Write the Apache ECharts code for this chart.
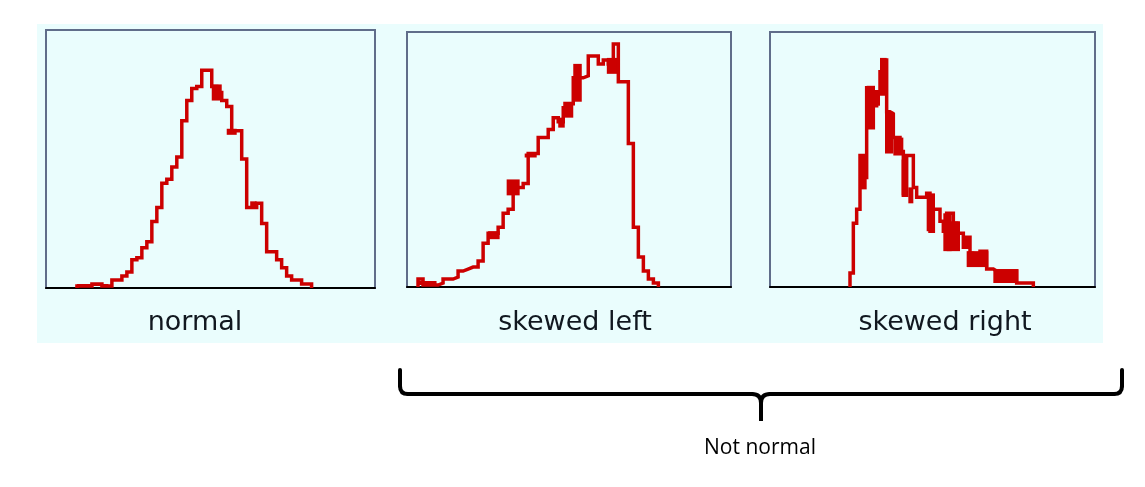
<!DOCTYPE html>
<html>
<head>
<meta charset="utf-8">
<script src="https://cdn.jsdelivr.net/npm/echarts@6/dist/echarts.min.js"></script>
<style>
  html, body { margin: 0; padding: 0; background: #ffffff; }
  #chart { width: 1145px; height: 487px; }
</style>
</head>
<body>
<div id="chart"></div>
<script>
// ---- Data (bin counts of each histogram, unit-width bins) ----
const panelTitles = ['normal', 'skewed left', 'skewed right'];
const groupLabel = 'Not normal';

// normal: first bin starts at 6.2
const normalStart = 6.2;
const normalCounts = [1,1,1,2,2,1,1,4,4,6,8,14,15,20,23,33,40,52,54,60,65,83,93,99,100,108,108,100,97,93,90,78,78,64,40,40,42,32,18,18,14,10,6,4,4,2,2];
// overlapping-run spread: [binFrom, binTo, countLow, countHigh]
const normalSpread = [[33.2,35.2,93,101],[6.2,12.5,1,2],[36.2,38.2,76,79],[40.9,42.2,40,43]];

// skewed left: first bin starts at 2.2
const leftStart = 2.2;
const leftCounts = [4,1,1,1,2,4,4,5,8,9,10,10,13,22,27,27,30,37,39,50,50,52,67,67,75,75,79,85,83,90,92,105,105,106,116,116,112,114,112,122,103,103,72,30,15,8,4,2];
const leftSpread = [[19.9,22.5,46,54],[16.2,18.5,24,28],[23.5,25.9,65,67],[30.2,31.5,80,85],[31.2,33.2,85,93],[33.2,34.9,93,112],[39.9,42.2,107,115],[2.2,5.9,1,3]];

// skewed right: first bin starts at 24
const rightStart = 24;
const rightCounts = [7,32,39,66,55,100,80,91,98,108,114,88,87,75,75,68,46,66,66,50,45,45,45,47,28,39,39,33,28,37,37,32,27,27,20,25,17,16,16,18,18,9,9,8,8,8,8,3,8,8,2,2,2,2,2];
const rightSpread = [[27,29,49,66],[29,31.5,80,101],[31.5,33,91,98],[33,35,96,115],[34.5,37,67,88],[37,40,66,75],[39.5,40.5,46,64],[41.5,43,42,50],[47,49.5,28,47],[52,54.5,18,37],[53,57,18,33],[59,65.5,10,18],[67,74.5,2,9]];

// axis extents (in bin units / count units)
const xMax = [65.9, 64.7, 97.5];
const yMax = 128;

// ---- Helpers ----
function stepData(start, counts) {
  const pts = [[start, 0]];
  counts.forEach((c, i) => pts.push([start + i, c]));
  pts.push([start + counts.length, 0]);
  return pts;
}

const lines = [
  stepData(normalStart, normalCounts),
  stepData(leftStart, leftCounts),
  stepData(rightStart, rightCounts)
];
const spreads = [normalSpread, leftSpread, rightSpread];

const grids = [
  { left: 46, top: 30, width: 329, height: 258 },
  { left: 407, top: 32, width: 324, height: 255 },
  { left: 770, top: 32, width: 325, height: 255 }
];

const bg = '#eafdfd';
const red = '#cc0000';
const chart = echarts.init(document.getElementById('chart'), null, { renderer: 'canvas' });

const braceStyle = { stroke: '#000000', lineWidth: 4, fill: null, lineCap: 'round' };

function renderSpread(params, api) {
  const p0 = api.coord([api.value(0), api.value(3)]);
  const p1 = api.coord([api.value(1), api.value(2)]);
  return {
    type: 'rect',
    shape: { x: p0[0], y: p0[1], width: p1[0] - p0[0], height: p1[1] - p0[1] },
    style: { fill: red }
  };
}

const series = [];
lines.forEach((d, i) => {
  series.push({
    type: 'line', xAxisIndex: i, yAxisIndex: i,
    data: d, step: 'end', showSymbol: false, symbol: 'none',
    lineStyle: { color: red, width: 3.5, join: 'miter', cap: 'butt' },
    z: 3
  });
  series.push({
    type: 'custom', xAxisIndex: i, yAxisIndex: i,
    data: spreads[i], renderItem: renderSpread,
    encode: { x: [0, 1], y: [2, 3] }, z: 3, silent: true
  });
});

const option = {
  animation: false,
  backgroundColor: '#ffffff',
  grid: grids.map(g => Object.assign({
    show: true,
    backgroundColor: bg,
    borderColor: '#606d8a',
    borderWidth: 2,
    containLabel: false
  }, g)),
  xAxis: grids.map((g, i) => ({
    type: 'value', gridIndex: i, min: 0, max: xMax[i],
    axisLine: { show: true, onZero: false, lineStyle: { color: '#000000', width: 2 } },
    axisTick: { show: false }, axisLabel: { show: false }, splitLine: { show: false }
  })),
  yAxis: grids.map((g, i) => ({
    type: 'value', gridIndex: i, min: 0, max: yMax,
    axisLine: { show: false }, axisTick: { show: false },
    axisLabel: { show: false }, splitLine: { show: false }
  })),
  series: series,
  graphic: [
    { type: 'rect', z: -10, silent: true,
      shape: { x: 37, y: 24, width: 1066, height: 319 },
      style: { fill: bg } },
    { type: 'text', x: 195, y: 323, silent: true,
      style: { text: panelTitles[0], fill: '#111820', font: '27px "DejaVu Sans"', textAlign: 'center', textVerticalAlign: 'middle' } },
    { type: 'text', x: 575, y: 323, silent: true,
      style: { text: panelTitles[1], fill: '#111820', font: '27px "DejaVu Sans"', textAlign: 'center', textVerticalAlign: 'middle' } },
    { type: 'text', x: 945, y: 323, silent: true,
      style: { text: panelTitles[2], fill: '#111820', font: '27px "DejaVu Sans"', textAlign: 'center', textVerticalAlign: 'middle' } },
    // curly brace
    { type: 'polyline', silent: true, shape: { points: [[400, 370], [400, 386]] }, style: braceStyle },
    { type: 'bezierCurve', silent: true, shape: { x1: 400, y1: 386, cpx1: 400, cpy1: 394, x2: 408, y2: 394 }, style: braceStyle },
    { type: 'polyline', silent: true, shape: { points: [[408, 394], [752, 394]] }, style: braceStyle },
    { type: 'bezierCurve', silent: true, shape: { x1: 752, y1: 394, cpx1: 761, cpy1: 394, x2: 761, y2: 403 }, style: braceStyle },
    { type: 'polyline', silent: true, shape: { points: [[761, 403], [761, 421]] }, style: { stroke: '#000000', lineWidth: 4, fill: null } },
    { type: 'bezierCurve', silent: true, shape: { x1: 761, y1: 403, cpx1: 761, cpy1: 394, x2: 770, y2: 394 }, style: braceStyle },
    { type: 'polyline', silent: true, shape: { points: [[770, 394], [1114, 394]] }, style: braceStyle },
    { type: 'bezierCurve', silent: true, shape: { x1: 1114, y1: 394, cpx1: 1122, cpy1: 394, x2: 1122, y2: 386 }, style: braceStyle },
    { type: 'polyline', silent: true, shape: { points: [[1122, 386], [1122, 370]] }, style: braceStyle },
    { type: 'text', x: 760, y: 448, silent: true,
      style: { text: groupLabel, fill: '#000000', font: '21px "Open Sans"', textAlign: 'center', textVerticalAlign: 'middle' } }
  ]
};
chart.setOption(option);
</script>
</body>
</html>
